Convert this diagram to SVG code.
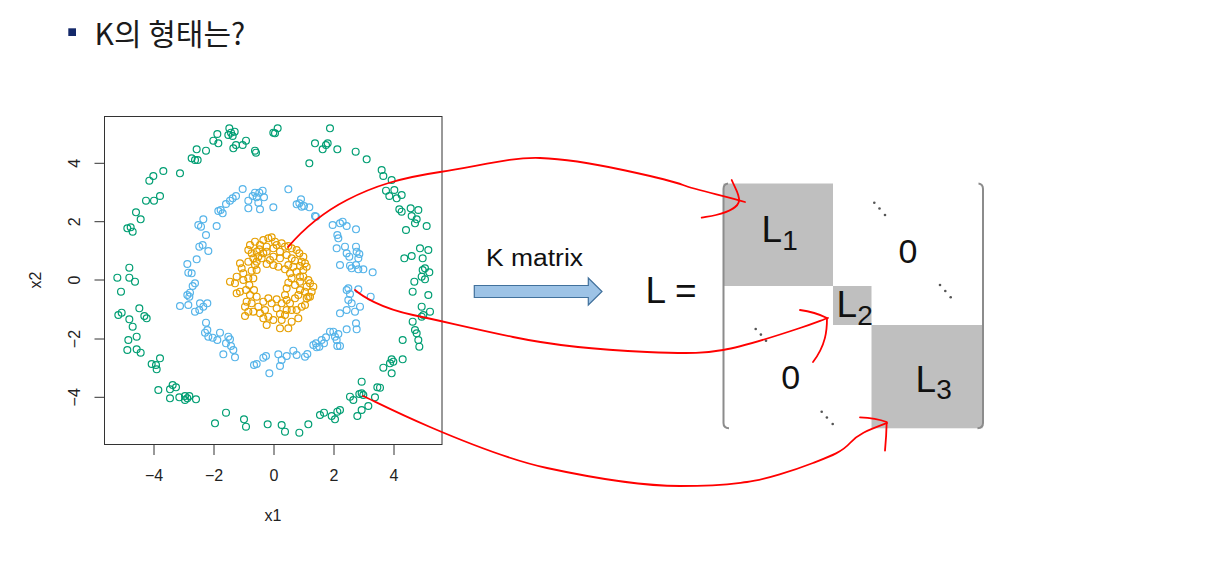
<svg xmlns="http://www.w3.org/2000/svg" width="1207" height="579" viewBox="0 0 1207 579">
<style>
.pts circle{fill:none;stroke-width:3.6;r:10.3px}
.g circle{stroke:#009E73}
.b circle{stroke:#56B4E9}
.o circle{stroke:#E69F00}
.ax{font-family:"Liberation Sans",Arial,sans-serif;font-size:16px;fill:#222}
.mx{font-family:"Liberation Sans",Arial,sans-serif;fill:#111}
.red{fill:none;stroke:#ff0000;stroke-width:1.8;stroke-linecap:round;stroke-linejoin:round}
.dot{fill:#555}
</style>
<rect width="1207" height="579" fill="#fff"/>
<g id="title">
<rect x="68.3" y="28.3" width="7.7" height="7.7" fill="#14296a"/>
<text x="94.5" y="45" font-family="'Noto Sans CJK KR',sans-serif" font-size="30" fill="#1b1b1b">K의 형태는?</text>
</g>
<g id="plot">
<rect x="104.5" y="116.5" width="337.5" height="328" fill="none" stroke="#333" stroke-width="1"/>
<path d="M154,445V455M214,445V455M274,445V455M334,445V455M394,445V455M104.5,163.3H94.5M104.5,221.7H94.5M104.5,280H94.5M104.5,339H94.5M104.5,397.3H94.5" stroke="#333" stroke-width="1" fill="none"/>
<g class="ax" text-anchor="middle">
<text x="154" y="481">−4</text><text x="214" y="481">−2</text><text x="274" y="481">0</text><text x="334" y="481">2</text><text x="394" y="481">4</text>
<text transform="translate(80,163.3) rotate(-90)">4</text>
<text transform="translate(80,221.7) rotate(-90)">2</text>
<text transform="translate(80,280) rotate(-90)">0</text>
<text transform="translate(80,339) rotate(-90)">−2</text>
<text transform="translate(80,397.3) rotate(-90)">−4</text>
<text x="273" y="521">x1</text>
<text transform="translate(41,280) rotate(-90)">x2</text>
</g>
<g class="pts" transform="translate(100,110) scale(0.33333)">
<g class="g">
<circle cx="388" cy="55"/><circle cx="393" cy="68"/><circle cx="404" cy="65"/><circle cx="398" cy="78"/><circle cx="385" cy="75"/><circle cx="352" cy="72"/><circle cx="340" cy="92"/><circle cx="355" cy="100"/><circle cx="408" cy="105"/><circle cx="400" cy="115"/><circle cx="428" cy="105"/><circle cx="438" cy="92"/><circle cx="290" cy="118"/><circle cx="318" cy="122"/><circle cx="275" cy="145"/><circle cx="285" cy="150"/><circle cx="293" cy="150"/><circle cx="465" cy="122"/><circle cx="468" cy="128"/><circle cx="520" cy="68"/><circle cx="525" cy="70"/><circle cx="533" cy="55"/><circle cx="690" cy="55"/><circle cx="645" cy="100"/><circle cx="668" cy="118"/><circle cx="678" cy="105"/><circle cx="683" cy="100"/><circle cx="712" cy="118"/><circle cx="767" cy="125"/><circle cx="800" cy="148"/><circle cx="628" cy="160"/><circle cx="190" cy="183"/><circle cx="240" cy="190"/><circle cx="160" cy="198"/><circle cx="148" cy="212"/><circle cx="138" cy="272"/><circle cx="162" cy="272"/><circle cx="180" cy="258"/><circle cx="108" cy="307"/><circle cx="122" cy="328"/><circle cx="82" cy="355"/><circle cx="92" cy="352"/><circle cx="98" cy="365"/><circle cx="52" cy="503"/><circle cx="88" cy="473"/><circle cx="88" cy="503"/><circle cx="105" cy="515"/><circle cx="63" cy="545"/><circle cx="55" cy="615"/><circle cx="65" cy="608"/><circle cx="88" cy="628"/><circle cx="98" cy="650"/><circle cx="118" cy="595"/><circle cx="133" cy="618"/><circle cx="140" cy="625"/><circle cx="85" cy="690"/><circle cx="110" cy="680"/><circle cx="82" cy="720"/><circle cx="110" cy="718"/><circle cx="122" cy="728"/><circle cx="155" cy="762"/><circle cx="180" cy="745"/><circle cx="170" cy="778"/><circle cx="168" cy="765"/><circle cx="175" cy="840"/><circle cx="210" cy="838"/><circle cx="218" cy="825"/><circle cx="228" cy="832"/><circle cx="210" cy="865"/><circle cx="238" cy="862"/><circle cx="255" cy="858"/><circle cx="262" cy="865"/><circle cx="268" cy="858"/><circle cx="288" cy="868"/><circle cx="255" cy="870"/><circle cx="345" cy="940"/><circle cx="378" cy="908"/><circle cx="432" cy="928"/><circle cx="438" cy="950"/><circle cx="503" cy="943"/><circle cx="545" cy="945"/><circle cx="555" cy="965"/><circle cx="598" cy="968"/><circle cx="625" cy="943"/><circle cx="660" cy="915"/><circle cx="672" cy="908"/><circle cx="695" cy="918"/><circle cx="705" cy="928"/><circle cx="712" cy="905"/><circle cx="720" cy="900"/><circle cx="772" cy="918"/><circle cx="785" cy="900"/><circle cx="785" cy="815"/><circle cx="750" cy="860"/><circle cx="760" cy="870"/><circle cx="778" cy="852"/><circle cx="785" cy="850"/><circle cx="790" cy="855"/><circle cx="805" cy="888"/><circle cx="825" cy="862"/><circle cx="832" cy="832"/><circle cx="840" cy="833"/><circle cx="850" cy="773"/><circle cx="875" cy="748"/><circle cx="880" cy="755"/><circle cx="870" cy="760"/><circle cx="908" cy="748"/><circle cx="875" cy="790"/><circle cx="908" cy="690"/><circle cx="938" cy="635"/><circle cx="945" cy="660"/><circle cx="950" cy="670"/><circle cx="955" cy="690"/><circle cx="958" cy="710"/><circle cx="965" cy="590"/><circle cx="970" cy="615"/><circle cx="965" cy="620"/><circle cx="990" cy="605"/><circle cx="985" cy="555"/><circle cx="938" cy="545"/><circle cx="943" cy="515"/><circle cx="965" cy="500"/><circle cx="975" cy="508"/><circle cx="968" cy="480"/><circle cx="988" cy="487"/><circle cx="975" cy="475"/><circle cx="913" cy="445"/><circle cx="935" cy="438"/><circle cx="960" cy="415"/><circle cx="968" cy="445"/><circle cx="985" cy="420"/><circle cx="918" cy="360"/><circle cx="945" cy="340"/><circle cx="980" cy="348"/><circle cx="935" cy="318"/><circle cx="950" cy="328"/><circle cx="955" cy="300"/><circle cx="932" cy="295"/><circle cx="898" cy="298"/><circle cx="905" cy="305"/><circle cx="858" cy="242"/><circle cx="868" cy="258"/><circle cx="883" cy="240"/><circle cx="905" cy="255"/><circle cx="890" cy="265"/><circle cx="875" cy="210"/><circle cx="845" cy="180"/><circle cx="850" cy="198"/>
</g>
<g class="b">
<circle cx="428" cy="237"/><circle cx="408" cy="258"/><circle cx="398" cy="265"/><circle cx="390" cy="272"/><circle cx="378" cy="282"/><circle cx="362" cy="300"/><circle cx="355" cy="303"/><circle cx="368" cy="310"/><circle cx="465" cy="248"/><circle cx="458" cy="258"/><circle cx="470" cy="262"/><circle cx="488" cy="242"/><circle cx="478" cy="248"/><circle cx="492" cy="262"/><circle cx="475" cy="278"/><circle cx="480" cy="298"/><circle cx="445" cy="272"/><circle cx="445" cy="295"/><circle cx="520" cy="292"/><circle cx="565" cy="238"/><circle cx="603" cy="268"/><circle cx="598" cy="280"/><circle cx="605" cy="290"/><circle cx="612" cy="288"/><circle cx="628" cy="292"/><circle cx="590" cy="283"/><circle cx="645" cy="318"/><circle cx="648" cy="320"/><circle cx="310" cy="328"/><circle cx="295" cy="345"/><circle cx="303" cy="350"/><circle cx="350" cy="348"/><circle cx="318" cy="375"/><circle cx="298" cy="410"/><circle cx="308" cy="405"/><circle cx="290" cy="448"/><circle cx="325" cy="423"/><circle cx="262" cy="462"/><circle cx="265" cy="488"/><circle cx="275" cy="490"/><circle cx="285" cy="520"/><circle cx="278" cy="528"/><circle cx="270" cy="548"/><circle cx="262" cy="555"/><circle cx="268" cy="560"/><circle cx="240" cy="588"/><circle cx="265" cy="585"/><circle cx="300" cy="580"/><circle cx="310" cy="590"/><circle cx="322" cy="580"/><circle cx="285" cy="605"/><circle cx="298" cy="600"/><circle cx="318" cy="638"/><circle cx="322" cy="660"/><circle cx="315" cy="668"/><circle cx="325" cy="680"/><circle cx="338" cy="683"/><circle cx="352" cy="690"/><circle cx="360" cy="668"/><circle cx="385" cy="680"/><circle cx="378" cy="700"/><circle cx="390" cy="688"/><circle cx="400" cy="720"/><circle cx="370" cy="733"/><circle cx="393" cy="708"/><circle cx="405" cy="742"/><circle cx="462" cy="765"/><circle cx="470" cy="762"/><circle cx="490" cy="743"/><circle cx="498" cy="738"/><circle cx="508" cy="790"/><circle cx="535" cy="733"/><circle cx="540" cy="768"/><circle cx="545" cy="750"/><circle cx="560" cy="738"/><circle cx="580" cy="722"/><circle cx="590" cy="735"/><circle cx="615" cy="740"/><circle cx="622" cy="732"/><circle cx="640" cy="705"/><circle cx="650" cy="712"/><circle cx="658" cy="710"/><circle cx="648" cy="700"/><circle cx="665" cy="690"/><circle cx="672" cy="700"/><circle cx="678" cy="682"/><circle cx="690" cy="665"/><circle cx="700" cy="665"/><circle cx="705" cy="680"/><circle cx="710" cy="690"/><circle cx="715" cy="672"/><circle cx="712" cy="708"/><circle cx="720" cy="708"/><circle cx="740" cy="658"/><circle cx="768" cy="640"/><circle cx="770" cy="658"/><circle cx="720" cy="610"/><circle cx="740" cy="600"/><circle cx="755" cy="580"/><circle cx="765" cy="605"/><circle cx="780" cy="590"/><circle cx="745" cy="570"/><circle cx="750" cy="552"/><circle cx="740" cy="540"/><circle cx="745" cy="535"/><circle cx="775" cy="538"/><circle cx="812" cy="560"/><circle cx="720" cy="465"/><circle cx="750" cy="467"/><circle cx="755" cy="475"/><circle cx="768" cy="465"/><circle cx="775" cy="478"/><circle cx="790" cy="478"/><circle cx="818" cy="487"/><circle cx="735" cy="410"/><circle cx="740" cy="430"/><circle cx="748" cy="440"/><circle cx="768" cy="410"/><circle cx="770" cy="425"/><circle cx="778" cy="432"/><circle cx="775" cy="445"/><circle cx="710" cy="415"/><circle cx="698" cy="345"/><circle cx="720" cy="340"/><circle cx="728" cy="335"/><circle cx="740" cy="348"/><circle cx="712" cy="375"/><circle cx="715" cy="385"/><circle cx="768" cy="358"/>
</g>
<g class="o">
<circle cx="450" cy="405"/><circle cx="490" cy="390"/><circle cx="505" cy="385"/><circle cx="515" cy="382"/><circle cx="525" cy="395"/><circle cx="530" cy="405"/><circle cx="545" cy="400"/><circle cx="555" cy="410"/><circle cx="565" cy="408"/><circle cx="575" cy="415"/><circle cx="590" cy="420"/><circle cx="598" cy="430"/><circle cx="610" cy="440"/><circle cx="605" cy="455"/><circle cx="615" cy="460"/><circle cx="620" cy="470"/><circle cx="600" cy="468"/><circle cx="585" cy="452"/><circle cx="575" cy="445"/><circle cx="560" cy="435"/><circle cx="540" cy="425"/><circle cx="520" cy="415"/><circle cx="500" cy="410"/><circle cx="480" cy="405"/><circle cx="470" cy="425"/><circle cx="455" cy="430"/><circle cx="460" cy="445"/><circle cx="490" cy="430"/><circle cx="485" cy="445"/><circle cx="470" cy="455"/><circle cx="445" cy="455"/><circle cx="420" cy="460"/><circle cx="430" cy="490"/><circle cx="410" cy="500"/><circle cx="390" cy="515"/><circle cx="405" cy="520"/><circle cx="430" cy="510"/><circle cx="445" cy="505"/><circle cx="460" cy="505"/><circle cx="420" cy="545"/><circle cx="410" cy="550"/><circle cx="438" cy="540"/><circle cx="450" cy="555"/><circle cx="440" cy="575"/><circle cx="455" cy="580"/><circle cx="435" cy="590"/><circle cx="445" cy="605"/><circle cx="435" cy="618"/><circle cx="460" cy="605"/><circle cx="475" cy="590"/><circle cx="480" cy="610"/><circle cx="495" cy="600"/><circle cx="505" cy="620"/><circle cx="500" cy="645"/><circle cx="520" cy="630"/><circle cx="545" cy="630"/><circle cx="565" cy="655"/><circle cx="555" cy="615"/><circle cx="575" cy="600"/><circle cx="590" cy="600"/><circle cx="605" cy="590"/><circle cx="620" cy="565"/><circle cx="630" cy="560"/><circle cx="640" cy="530"/><circle cx="630" cy="520"/><circle cx="620" cy="530"/><circle cx="615" cy="545"/><circle cx="600" cy="540"/><circle cx="595" cy="555"/><circle cx="585" cy="565"/><circle cx="570" cy="580"/><circle cx="560" cy="570"/><circle cx="555" cy="555"/><circle cx="560" cy="535"/><circle cx="565" cy="518"/><circle cx="575" cy="505"/><circle cx="585" cy="525"/><circle cx="600" cy="515"/><circle cx="610" cy="500"/><circle cx="590" cy="485"/><circle cx="570" cy="490"/><circle cx="555" cy="478"/><circle cx="535" cy="470"/><circle cx="520" cy="465"/><circle cx="540" cy="445"/><circle cx="520" cy="440"/><circle cx="500" cy="462"/><circle cx="470" cy="480"/><circle cx="462" cy="540"/><circle cx="470" cy="560"/><circle cx="490" cy="575"/><circle cx="515" cy="580"/><circle cx="530" cy="595"/><circle cx="545" cy="580"/><circle cx="530" cy="568"/><circle cx="505" cy="565"/><circle cx="560" cy="600"/><circle cx="595" cy="625"/><circle cx="575" cy="635"/><circle cx="540" cy="612"/><circle cx="490" cy="625"/><circle cx="448" cy="525"/><circle cx="610" cy="480"/><circle cx="565" cy="465"/><circle cx="580" cy="470"/><circle cx="600" cy="500"/><circle cx="455" cy="482"/><circle cx="425" cy="475"/><circle cx="475" cy="440"/><circle cx="445" cy="420"/><circle cx="510" cy="450"/><circle cx="615" cy="585"/><circle cx="625" cy="560"/><circle cx="540" cy="655"/><circle cx="465" cy="395"/><circle cx="478" cy="418"/><circle cx="500" cy="425"/><circle cx="465" cy="465"/><circle cx="635" cy="545"/><circle cx="625" cy="510"/>
</g>
</g>
</g>
<g id="arrow">
<polygon points="474.3,285.5 588.3,285.5 588.3,278 602,291.5 588.3,305 588.3,297.5 474.3,297.5" fill="#9dc3e6" stroke="#41719c" stroke-width="1.2"/>
<text x="486" y="266" font-family="'Liberation Sans',Arial,sans-serif" font-size="23" fill="#111" textLength="97" lengthAdjust="spacingAndGlyphs">K matrix</text>
</g>
<g id="matrix">
<text class="mx" x="645.6" y="303.3" font-size="37">L =</text>
<rect id="L1" x="723.5" y="183.5" width="109.5" height="102.5" fill="#bfbfbf"/>
<rect id="L2" x="833" y="286" width="38.5" height="39" fill="#bfbfbf"/>
<rect id="L3" x="871.5" y="325" width="111" height="103.3" fill="#bfbfbf"/>
<path d="M728,183.5 Q723.5,184 723.5,189 V423 Q723.5,428 729,428.3" fill="none" stroke="#8c8c8c" stroke-width="2"/>
<path d="M978.5,183.5 Q983,184 983,189 V423 Q983,428 977.5,428.3" fill="none" stroke="#8c8c8c" stroke-width="2"/>
<text class="mx" x="761.6" y="241.7" font-size="37">L<tspan font-size="28" dy="8.3">1</tspan></text>
<text class="mx" x="836.6" y="316.7" font-size="37">L<tspan font-size="28" dy="8.3">2</tspan></text>
<text class="mx" x="915.6" y="391.7" font-size="37">L<tspan font-size="28" dy="7.6">3</tspan></text>
<text class="mx" x="908" y="262.7" font-size="34" text-anchor="middle">0</text>
<text class="mx" x="790.8" y="389" font-size="34" text-anchor="middle">0</text>
<g class="dot">
<circle cx="874.3" cy="202.7" r="1.3"/><circle cx="879.5" cy="208.5" r="1.3"/><circle cx="885" cy="215" r="1.3"/>
<circle cx="940" cy="285" r="1.3"/><circle cx="945.3" cy="291" r="1.3"/><circle cx="950.7" cy="297.3" r="1.3"/>
<circle cx="755.7" cy="329" r="1.3"/><circle cx="760.9" cy="334.6" r="1.3"/><circle cx="766" cy="340.7" r="1.3"/>
<circle cx="821.7" cy="411.7" r="1.3"/><circle cx="826.9" cy="417.5" r="1.3"/><circle cx="832.7" cy="424" r="1.3"/>
</g>
</g>
<g id="connectors" class="red">
<path d="M288,247 C300,233 320,214 347,200 S400,178 440,172 S510,157 540,158 S600,165 623,170 S670,180 683,185 S725,196 745,202"/>
<path d="M731.7,180 C735,188 740,195 739,201 C738,208 728,212 716,215 C710,216.5 705,217 701.7,217.7"/>
<path d="M355,290 C362,296 380,308 413,315 S470,328 513,337 S600,350 647,352 S705,353 723,350 S785,333 800,328 S822,320 828,318"/>
<path d="M800,310 Q815,312 827,318 C827,330 826,345 813,362"/>
<path d="M363,396 C372,400 395,412 430,427 S510,460 547,468 S640,486 680,486 S730,484 747,482 S795,470 813,463 S842,452 850,443 S866,431 887,423"/>
<path d="M860,417.3 Q876,418 886.7,422 C886.5,430 886,440 885,450.7"/>
</g>
</svg>
